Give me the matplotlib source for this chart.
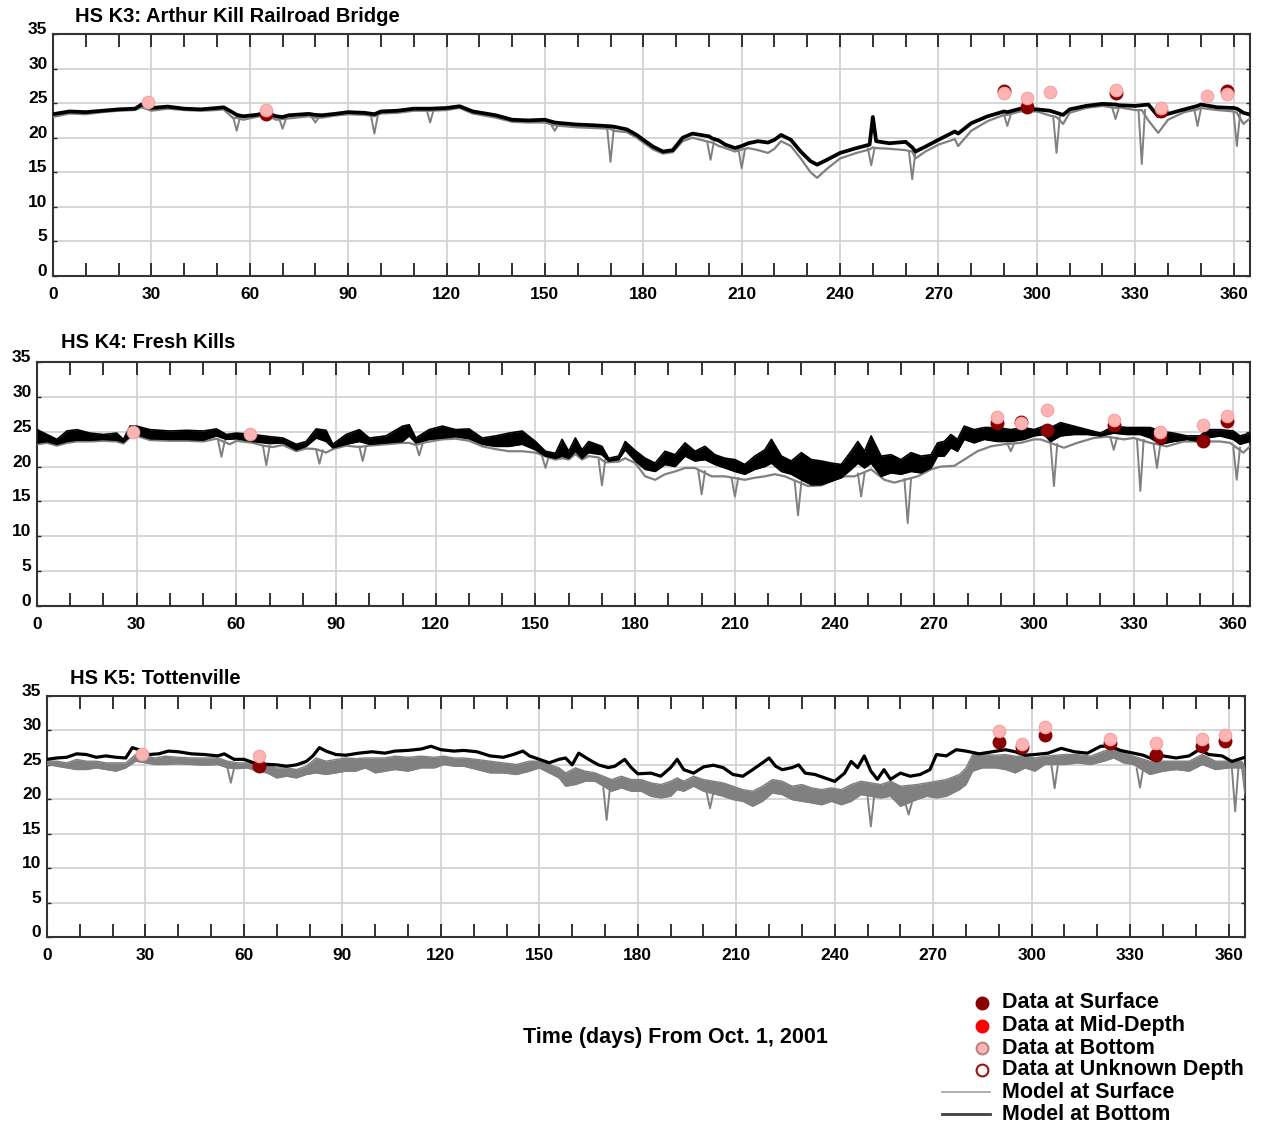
import numpy as np
import matplotlib.pyplot as plt
from matplotlib.lines import Line2D

plt.rcParams['font.family'] = ['Liberation Sans', 'DejaVu Sans']
plt.rcParams['font.weight'] = 'bold'

W, H = 1262, 1127

# ---------------- HS K3: Arthur Kill Railroad Bridge ----------------
k3_days = [0, 5, 10, 15, 20, 25, 27, 30, 35, 40, 45, 50, 52, 55, 56, 58, 62, 65, 68, 70,
           72, 78, 80, 82, 86, 90, 95, 98, 100, 105, 110, 115, 120, 124, 128, 135, 140, 145, 150, 153,
           155, 160, 165, 170, 171, 175, 178, 180, 183, 186, 189, 192, 195, 200, 201, 203, 205, 208, 210, 212,
           215, 218, 220, 222, 225, 228, 231, 233, 236, 240, 245, 249, 250, 251, 255, 260, 262, 263, 266, 270,
           275, 276, 280, 285, 290, 291, 295, 300, 304, 306, 308, 310, 315, 320, 324, 325, 330, 332, 334, 337,
           340, 345, 349, 350, 355, 360, 361, 363, 365]
k3_bottom = [23.4, 23.8, 23.7, 23.9, 24.1, 24.2, 24.8, 24.3, 24.5, 24.2, 24.1, 24.3, 24.4, 23.6, 23.3, 23.1, 23.3, 23.6, 23.1, 23.0,
             23.25, 23.45, 23.3, 23.25, 23.45, 23.7, 23.6, 23.4, 23.8, 23.9, 24.2, 24.2, 24.3, 24.55, 23.8, 23.25, 22.6, 22.5, 22.6, 22.2,
             22.1, 21.9, 21.8, 21.65, 21.6, 21.2, 20.4, 19.7, 18.7, 18.0, 18.2, 20.0, 20.6, 20.2, 19.9, 19.6, 19.0, 18.5, 18.8, 19.2,
             19.5, 19.3, 19.7, 20.4, 19.7, 18.0, 16.6, 16.1, 16.8, 17.8, 18.5, 19.0, 23.0, 19.5, 19.2, 19.4, 18.6, 18.0, 18.7, 19.7,
             20.9, 20.6, 22.1, 23.1, 23.8, 23.7, 24.2, 24.1, 23.9, 23.6, 23.3, 24.1, 24.6, 24.9, 24.8, 24.7, 24.6, 24.7, 24.8, 23.1,
             23.45, 24.1, 24.6, 24.8, 24.4, 24.3, 24.2, 23.6, 23.35]
k3_surface = [23.0, 23.5, 23.4, 23.7, 23.9, 24.0, 24.4, 23.9, 24.2, 24.0, 23.9, 24.0, 24.1, 22.8, 22.9, 22.6, 23.0, 23.3, 22.6, 22.7,
              22.8, 23.1, 22.9, 22.9, 23.2, 23.4, 23.3, 23.1, 23.5, 23.6, 23.9, 23.9, 24.0, 24.3, 23.5, 22.9, 22.3, 22.2, 22.2, 21.8,
              21.7, 21.5, 21.4, 21.3, 21.0, 20.8, 20.0, 19.3, 18.3, 17.7, 17.9, 19.5, 20.0, 19.4, 19.3, 18.8, 18.5, 18.0, 18.3, 18.5,
              18.2, 17.8, 18.4, 19.5, 18.8, 17.0, 15.0, 14.2, 15.5, 17.0, 17.8, 18.3, 18.6, 18.5, 18.4, 18.2, 18.0, 17.0, 18.0, 19.0,
              19.8, 18.8, 21.0, 22.4, 23.3, 23.3, 23.8, 23.8, 23.2, 23.0, 22.0, 23.6, 24.3, 24.6, 24.3, 24.4, 24.0, 24.0, 22.5, 20.7,
              22.6, 23.7, 24.1, 24.3, 24.0, 23.8, 23.6, 22.0, 22.8]
k3_dip_days = [56, 70, 80, 98, 115, 153, 170, 200.5, 210, 249.5, 262, 291, 306, 324, 332, 349, 361]
k3_dip_vals = [21.0, 21.3, 22.2, 20.6, 22.2, 21.0, 16.5, 16.8, 15.6, 16.0, 14.0, 21.7, 17.8, 22.7, 16.2, 21.7, 18.8]
k3_obs_surf_days = [65, 290, 297, 324, 338, 358]
k3_obs_surf = [23.4, 26.8, 24.4, 26.4, 23.8, 26.8]
k3_obs_bot_days = [29, 65, 290, 297, 304, 324, 338, 352, 358]
k3_obs_bot = [25.1, 24.0, 26.5, 25.8, 26.65, 26.9, 24.3, 26.0, 26.3]

# ---------------- HS K4: Fresh Kills ----------------
k4_bot_days = [0, 3, 6, 9, 12, 16, 20, 24, 26, 28, 30, 34, 40, 45, 50, 54, 57, 60, 65, 70,
               74, 78, 81, 84, 87, 89, 93, 97, 100, 105, 110, 112, 114, 118, 122, 126, 130, 134, 138, 142,
               146, 150, 153, 156, 158, 160, 162, 164, 166, 170, 172, 175, 177, 180, 183, 186, 189, 192, 195, 198,
               201, 204, 207, 210, 213, 216, 219, 221, 224, 227, 230, 233, 236, 239, 242, 245, 247, 249, 251, 254,
               257, 260, 263, 266, 269, 271, 273, 275, 277, 279, 282, 285, 289, 293, 297, 300, 303, 305, 308, 312,
               316, 320, 324, 328, 332, 335, 338, 342, 346, 350, 352, 356, 360, 362, 365]
k4_bot_lo = [23.4, 23.6, 23.2, 23.6, 23.8, 23.8, 23.9, 23.8, 23.5, 24.4, 24.6, 24.0, 23.9, 23.9, 23.8, 24.4, 23.9, 24.0, 23.6, 23.3,
             23.4, 22.4, 22.9, 24.1, 23.6, 22.7, 23.2, 23.6, 23.2, 23.4, 23.6, 24.4, 23.4, 23.9, 24.1, 24.3, 24.0, 23.2, 22.9, 22.9,
             23.2, 22.4, 21.5, 21.2, 21.5, 21.2, 22.2, 21.2, 22.0, 21.7, 20.8, 21.0, 22.4, 20.8, 19.6, 19.3, 20.3, 20.0, 21.5, 20.8,
             21.0, 20.3, 19.8, 19.3, 18.9, 19.6, 20.0, 20.5, 19.3, 18.9, 18.1, 17.4, 17.4, 17.9, 18.4, 19.6, 20.5, 19.8, 20.5, 18.6,
             19.1, 18.9, 19.3, 19.1, 19.8, 21.5, 21.5, 22.7, 22.2, 23.9, 23.4, 23.9, 23.6, 23.6, 23.9, 24.4, 24.6, 23.6, 24.4, 24.6,
             24.6, 24.4, 24.8, 24.6, 24.6, 24.1, 23.2, 23.6, 23.9, 23.6, 24.1, 24.4, 23.9, 23.2, 23.6]
k4_bot_hi = [25.3, 24.6, 23.9, 25.1, 25.3, 24.8, 24.6, 24.8, 23.9, 25.8, 25.8, 25.3, 25.1, 25.2, 25.1, 25.4, 24.6, 24.8, 24.6, 24.3,
             24.1, 23.2, 23.6, 25.4, 25.2, 23.2, 24.6, 25.3, 24.1, 24.4, 25.8, 26.0, 24.1, 25.3, 25.8, 25.3, 25.4, 24.1, 24.4, 24.8,
             25.1, 23.6, 22.2, 21.9, 23.9, 22.2, 24.1, 22.4, 23.6, 22.9, 21.2, 21.5, 23.6, 22.3, 21.2, 20.5, 22.2, 21.7, 23.4, 22.2,
             22.9, 21.7, 21.2, 21.0, 20.3, 21.5, 22.4, 23.9, 21.5, 20.8, 22.0, 21.0, 20.8, 20.5, 20.3, 22.2, 23.6, 22.2, 24.4, 21.5,
             21.7, 21.0, 22.0, 21.5, 21.7, 23.4, 23.6, 24.6, 23.9, 25.8, 25.3, 25.6, 25.6, 25.3, 25.6, 25.3, 25.8, 25.6, 26.3, 25.8,
             25.3, 24.8, 25.8, 25.6, 25.6, 25.6, 25.1, 24.8, 24.4, 24.4, 25.3, 25.3, 25.1, 24.4, 24.8]
k4_surf_days = [0, 3, 6, 9, 12, 16, 20, 24, 26, 28, 30, 34, 40, 45, 50, 54, 58, 60, 65, 68,
                71, 74, 78, 81, 84, 87, 89, 93, 97, 100, 105, 110, 112, 114, 117, 122, 126, 130, 134, 138,
                142, 146, 150, 154, 156, 158, 160, 162, 164, 166, 169, 171, 175, 177, 180, 183, 186, 189, 192, 195,
                198, 203, 207, 213, 216, 219, 222, 225, 232, 236, 240, 243, 246, 251, 255, 258, 265, 269, 272, 276,
                279, 283, 287, 291, 296, 300, 302, 309, 313, 318, 322, 327, 330, 335, 340, 345, 350, 356, 359, 363,
                365]
k4_surf = [23.2, 23.4, 23.0, 23.4, 23.6, 23.6, 23.7, 23.6, 23.3, 24.2, 24.4, 23.8, 23.7, 23.7, 23.6, 24.0, 23.2, 23.7, 23.4, 23.0,
           22.8, 23.1, 22.2, 22.6, 22.5, 22.0, 22.5, 23.0, 22.8, 23.0, 23.2, 23.4, 23.4, 23.1, 23.5, 23.9, 24.0, 23.7, 22.9, 22.5,
           22.2, 22.2, 22.0, 21.3, 21.0, 21.2, 21.0, 21.8, 21.0, 21.5, 21.3, 20.6, 20.7, 21.2, 20.5, 18.6, 18.1, 18.9, 19.3, 19.8,
           19.8, 18.6, 18.6, 18.1, 18.4, 18.6, 18.9, 18.6, 17.2, 17.3, 18.1, 18.6, 18.6, 19.6, 18.1, 17.7, 18.6, 19.6, 20.0, 20.1,
           21.0, 22.2, 22.9, 23.2, 23.4, 23.9, 23.9, 22.7, 23.4, 24.1, 24.3, 23.9, 24.1, 23.4, 22.9, 23.6, 23.6, 23.6, 23.4, 22.0,
           22.9]
k4_dip_days = [55.5, 69, 85, 98, 115, 153, 170, 200, 210, 229, 248, 262, 293, 306, 324, 332, 337, 361]
k4_dip_vals = [21.4, 20.2, 20.4, 20.8, 21.6, 19.8, 17.3, 16.0, 15.7, 13.0, 15.7, 11.9, 22.2, 17.2, 22.4, 16.5, 19.8, 18.1]
k4_obs_surf_days = [289, 296, 304, 324, 338, 351, 358]
k4_obs_surf = [26.3, 26.4, 25.3, 26.0, 24.3, 23.6, 26.5]
k4_obs_bot_days = [29, 64, 289, 296, 304, 324, 338, 351, 358]
k4_obs_bot = [25.0, 24.7, 27.1, 26.2, 28.1, 26.7, 25.0, 26.0, 27.3]

# ---------------- HS K5: Tottenville ----------------
k5_bot_days = [0, 3, 6, 9, 12, 15, 18, 21, 24, 26, 28, 31, 34, 37, 40, 44, 48, 52, 54, 57,
               60, 63, 66, 70, 73, 76, 79, 81, 83, 85, 88, 91, 95, 99, 103, 106, 110, 114, 117, 120,
               124, 127, 131, 135, 139, 142, 145, 147, 150, 153, 156, 158, 160, 162, 165, 168, 171, 173, 176, 178,
               180, 184, 187, 190, 192, 194, 197, 200, 203, 206, 209, 212, 215, 218, 220, 222, 224, 227, 229, 231,
               234, 237, 240, 243, 245, 247, 249, 251, 253, 255, 257, 260, 263, 266, 269, 271, 274, 277, 280, 284,
               288, 292, 295, 298, 301, 305, 309, 313, 317, 321, 324, 327, 331, 334, 337, 340, 344, 348, 351, 354,
               358, 361, 365]
k5_bottom = [25.8, 26.0, 26.1, 26.6, 26.5, 26.1, 26.3, 26.1, 26.0, 27.5, 27.2, 26.5, 26.6, 27.0, 26.9, 26.6, 26.5, 26.3, 26.6, 25.8,
             25.8, 25.3, 25.1, 25.0, 24.8, 25.0, 25.5, 26.3, 27.5, 27.0, 26.5, 26.4, 26.7, 26.9, 26.7, 27.0, 27.1, 27.3, 27.7, 27.2,
             27.0, 27.1, 26.9, 26.3, 26.1, 26.5, 27.0, 26.3, 25.8, 25.3, 25.8, 26.0, 25.0, 26.7, 25.8, 25.0, 24.6, 24.8, 25.8, 24.6,
             23.7, 23.8, 23.35, 24.6, 25.8, 24.3, 23.8, 24.7, 24.95, 24.6, 23.6, 23.35, 24.3, 25.3, 26.0, 24.8, 24.3, 24.6, 25.0, 23.8,
             23.6, 23.1, 22.6, 23.8, 25.5, 24.6, 26.3, 24.1, 22.9, 24.3, 22.9, 23.8, 23.35, 23.6, 24.3, 26.5, 26.3, 27.2, 27.0, 26.6,
             26.9, 27.2, 26.9, 26.4, 26.5, 26.7, 27.4, 26.9, 26.7, 27.7, 27.7, 27.1, 26.7, 26.4, 25.8, 26.3, 26.0, 26.3, 27.2, 26.5,
             26.3, 25.5, 26.1]
k5_surf_days = [0, 3, 6, 9, 12, 15, 18, 21, 24, 27, 30, 33, 36, 40, 44, 48, 52, 55, 58, 61,
                64, 67, 70, 73, 76, 79, 82, 85, 88, 91, 94, 97, 100, 103, 106, 110, 114, 118, 121, 124,
                127, 131, 135, 139, 143, 147, 150, 153, 156, 158, 161, 164, 167, 172, 175, 178, 181, 184, 187, 190,
                192, 194, 197, 200, 206, 209, 212, 215, 218, 221, 224, 227, 230, 233, 236, 239, 242, 245, 248, 254,
                257, 260, 265, 268, 271, 274, 278, 280, 282, 285, 289, 292, 295, 298, 301, 304, 310, 314, 318, 322,
                325, 328, 331, 336, 340, 344, 348, 352, 356, 360, 364, 365]
k5_surf_lo = [25.05, 24.8, 24.56, 24.32, 24.32, 24.56, 24.32, 24.08, 24.56, 25.53, 25.29, 25.05, 25.05, 25.15, 25.05, 24.95, 25.05, 24.56, 24.45, 24.56,
              24.08, 23.83, 23.1, 23.35, 23.1, 23.6, 23.83, 23.6, 23.83, 24.08, 24.08, 24.56, 23.83, 24.08, 24.32, 24.08, 24.56, 24.56, 25.05, 24.8,
              24.8, 24.32, 23.83, 23.83, 23.6, 24.08, 24.56, 23.83, 23.1, 21.9, 22.14, 22.62, 22.62, 21.17, 21.65, 21.17, 21.17, 20.44, 20.2, 20.44,
              21.4, 21.17, 21.9, 21.17, 20.44, 19.95, 19.7, 18.98, 19.7, 20.92, 20.68, 19.95, 19.7, 19.47, 19.2, 19.7, 19.2, 19.7, 20.68, 20.2,
              20.44, 18.98, 19.95, 20.44, 20.2, 20.44, 21.4, 22.14, 24.08, 24.56, 24.56, 24.32, 23.83, 24.56, 24.08, 25.05, 25.05, 25.29, 25.05, 25.53,
              26.0, 25.29, 25.05, 23.6, 24.08, 24.32, 24.08, 25.05, 24.32, 24.56, 24.56, 20.68]
k5_surf_hi = [25.53, 25.53, 25.29, 25.78, 25.53, 25.53, 25.29, 25.29, 25.29, 26.5, 26.26, 26.0, 26.26, 26.1, 26.0, 26.0, 26.0, 25.53, 25.29, 25.29,
              25.05, 25.05, 24.56, 24.56, 24.32, 24.8, 26.0, 25.53, 25.78, 26.0, 25.9, 26.0, 26.0, 26.0, 26.26, 26.1, 26.26, 26.1, 26.26, 26.0,
              26.0, 25.78, 25.53, 25.29, 25.05, 25.53, 25.53, 25.05, 24.56, 23.83, 24.56, 24.08, 23.83, 22.86, 23.35, 22.86, 22.86, 22.38, 22.14, 22.62,
              23.1, 22.62, 23.35, 22.86, 22.38, 21.9, 21.4, 21.17, 21.9, 22.86, 22.62, 21.9, 22.14, 21.65, 21.4, 21.65, 21.4, 22.14, 22.62, 22.14,
              22.62, 21.9, 22.14, 22.38, 22.62, 22.86, 23.6, 24.56, 26.5, 26.5, 26.4, 26.5, 26.26, 26.26, 26.0, 26.26, 26.5, 26.5, 26.26, 27.0,
              27.3, 26.75, 26.26, 25.53, 25.53, 25.53, 25.53, 26.5, 25.53, 25.53, 25.53, 24.56]
k5_dip_days = [56, 170.5, 202, 251, 262.5, 307, 333, 362]
k5_dip_vals = [22.4, 17.0, 18.7, 16.07, 17.77, 21.6, 21.7, 18.25]
k5_obs_surf_days = [64.5, 290, 297, 304, 324, 338, 352, 359]
k5_obs_surf = [24.8, 28.35, 27.6, 29.4, 28.2, 26.4, 27.7, 28.45]
k5_obs_bot_days = [29, 64.5, 290, 297, 304, 324, 338, 352, 359]
k5_obs_bot = [26.6, 26.3, 29.9, 28.0, 30.5, 28.7, 28.2, 28.7, 29.3]

SURF_DATA = '#8b0000'
MID_DATA = '#ff0000'
BOT_DATA = '#ffb4b4'
SURF_MODEL = '#808080'
BOT_MODEL = '#000000'


def px_box(left, top, right, bottom):
    """axes rectangle from pixel edges"""
    return [left / W, 1 - bottom / H, (right - left) / W, (bottom - top) / H]


def style_axes(ax):
    ax.set_xlim(0, 365)
    ax.set_ylim(0, 35)
    ax.set_xticks(np.arange(0, 361, 30))
    ax.set_xticks(np.arange(0, 366, 10), minor=True)
    ax.set_yticks(np.arange(0, 36, 5))
    ax.grid(True, which='major', color='#d0d0d0', lw=1.2)
    ax.set_axisbelow(True)
    ax.tick_params(axis='x', which='both', direction='in', top=True, bottom=True,
                   length=9.5, width=1.3, color='#222222')
    ax.tick_params(axis='x', which='major', labelsize=12.5, pad=8)
    ax.tick_params(axis='y', direction='in', left=True, right=True, length=3,
                   width=1, color='#222222', labelsize=12.5, pad=4)
    for lbl in ax.get_yticklabels():
        lbl.set_va('baseline')
    for s in ax.spines.values():
        s.set_linewidth(1.5)
        s.set_color('#333333')


def draw_dips(ax, dip_days, dip_vals, base_days, base_vals, half=1.0):
    # short freshwater drops in the surface series, drawn as narrow spikes
    base = np.interp(dip_days, base_days, base_vals)
    for d, v, b in zip(dip_days, dip_vals, base):
        ax.plot([d - half, d, d + half], [b, v, b], color=SURF_MODEL, lw=1.4, zorder=3)


def draw_obs(ax, sd, sv, bd, bv):
    ax.plot(sd, sv, 'o', ms=9, color=SURF_DATA, mec=SURF_DATA, zorder=5)
    ax.plot(bd, bv, 'o', ms=9, color=BOT_DATA, mec='#f4a0a0', mew=0.8, zorder=6)


fig = plt.figure(figsize=(W / 100, H / 100), dpi=100)

# K3
ax1 = fig.add_axes(px_box(53, 34, 1250, 276))
ax1.plot(k3_days, k3_surface, color=SURF_MODEL, lw=1.6, zorder=3)
draw_dips(ax1, k3_dip_days, k3_dip_vals, k3_days, k3_surface)
ax1.plot(k3_days, k3_bottom, color=BOT_MODEL, lw=2.7, zorder=4)
draw_obs(ax1, k3_obs_surf_days, k3_obs_surf, k3_obs_bot_days, k3_obs_bot)
style_axes(ax1)

# K4
ax2 = fig.add_axes(px_box(37, 362, 1250, 606))
ax2.plot(k4_surf_days, k4_surf, color=SURF_MODEL, lw=1.6, zorder=3)
draw_dips(ax2, k4_dip_days, k4_dip_vals, k4_surf_days, k4_surf)
ax2.fill_between(k4_bot_days, k4_bot_lo, k4_bot_hi, color=BOT_MODEL, lw=0, zorder=4)
ax2.plot(k4_bot_days, k4_bot_lo, color=BOT_MODEL, lw=1.2, zorder=4)
ax2.plot(k4_bot_days, k4_bot_hi, color=BOT_MODEL, lw=1.2, zorder=4)
draw_obs(ax2, k4_obs_surf_days, k4_obs_surf, k4_obs_bot_days, k4_obs_bot)
style_axes(ax2)

# K5
ax3 = fig.add_axes(px_box(47, 696, 1245, 937))
ax3.fill_between(k5_surf_days, k5_surf_lo, k5_surf_hi, color=SURF_MODEL, lw=0, zorder=3)
ax3.plot(k5_surf_days, k5_surf_lo, color=SURF_MODEL, lw=1.0, zorder=3)
ax3.plot(k5_surf_days, k5_surf_hi, color=SURF_MODEL, lw=1.0, zorder=3)
draw_dips(ax3, k5_dip_days, k5_dip_vals, k5_surf_days, k5_surf_lo)
ax3.plot(k5_bot_days, k5_bottom, color=BOT_MODEL, lw=2.3, zorder=4)
draw_obs(ax3, k5_obs_surf_days, k5_obs_surf, k5_obs_bot_days, k5_obs_bot)
style_axes(ax3)

title_kw = dict(fontsize=14.5, fontweight='bold', va='center', ha='left')
fig.text(75 / W, 1 - 16 / H, 'HS K3: Arthur Kill Railroad Bridge', **title_kw)
fig.text(61 / W, 1 - 343 / H, 'HS K4: Fresh Kills', **title_kw)
fig.text(70 / W, 1 - 678 / H, 'HS K5: Tottenville', **title_kw)

fig.text(675 / W, 1 - 1037 / H, 'Time (days) From Oct. 1, 2001',
         fontsize=15.5, fontweight='bold', ha='center', va='center')

# legend, drawn row by row
legend_rows = [
    ('marker', dict(color=SURF_DATA, mec=SURF_DATA), 'Data at Surface'),
    ('marker', dict(color=MID_DATA, mec=MID_DATA), 'Data at Mid-Depth'),
    ('marker', dict(color=BOT_DATA, mec='#c08080'), 'Data at Bottom'),
    ('marker', dict(color='white', mec='#a01010'), 'Data at Unknown Depth'),
    ('line', dict(color='#a8a8a8', lw=1.3), 'Model at Surface'),
    ('line', dict(color='#404040', lw=2.0), 'Model at Bottom'),
]
row_y = [1003, 1026, 1048, 1070, 1092, 1114]
for (kind, kw, label), y in zip(legend_rows, row_y):
    yf = 1 - y / H
    if kind == 'marker':
        fig.add_artist(Line2D([982 / W], [yf], marker='o', ms=8.5, mew=1.5,
                              ls='none', transform=fig.transFigure, **kw))
    else:
        fig.add_artist(Line2D([942 / W, 990 / W], [yf, yf],
                              transform=fig.transFigure, **kw))
    fig.text(1002 / W, yf, label, fontsize=15.5, fontweight='bold',
             ha='left', va='center')

fig.savefig('out.png', dpi=100)
